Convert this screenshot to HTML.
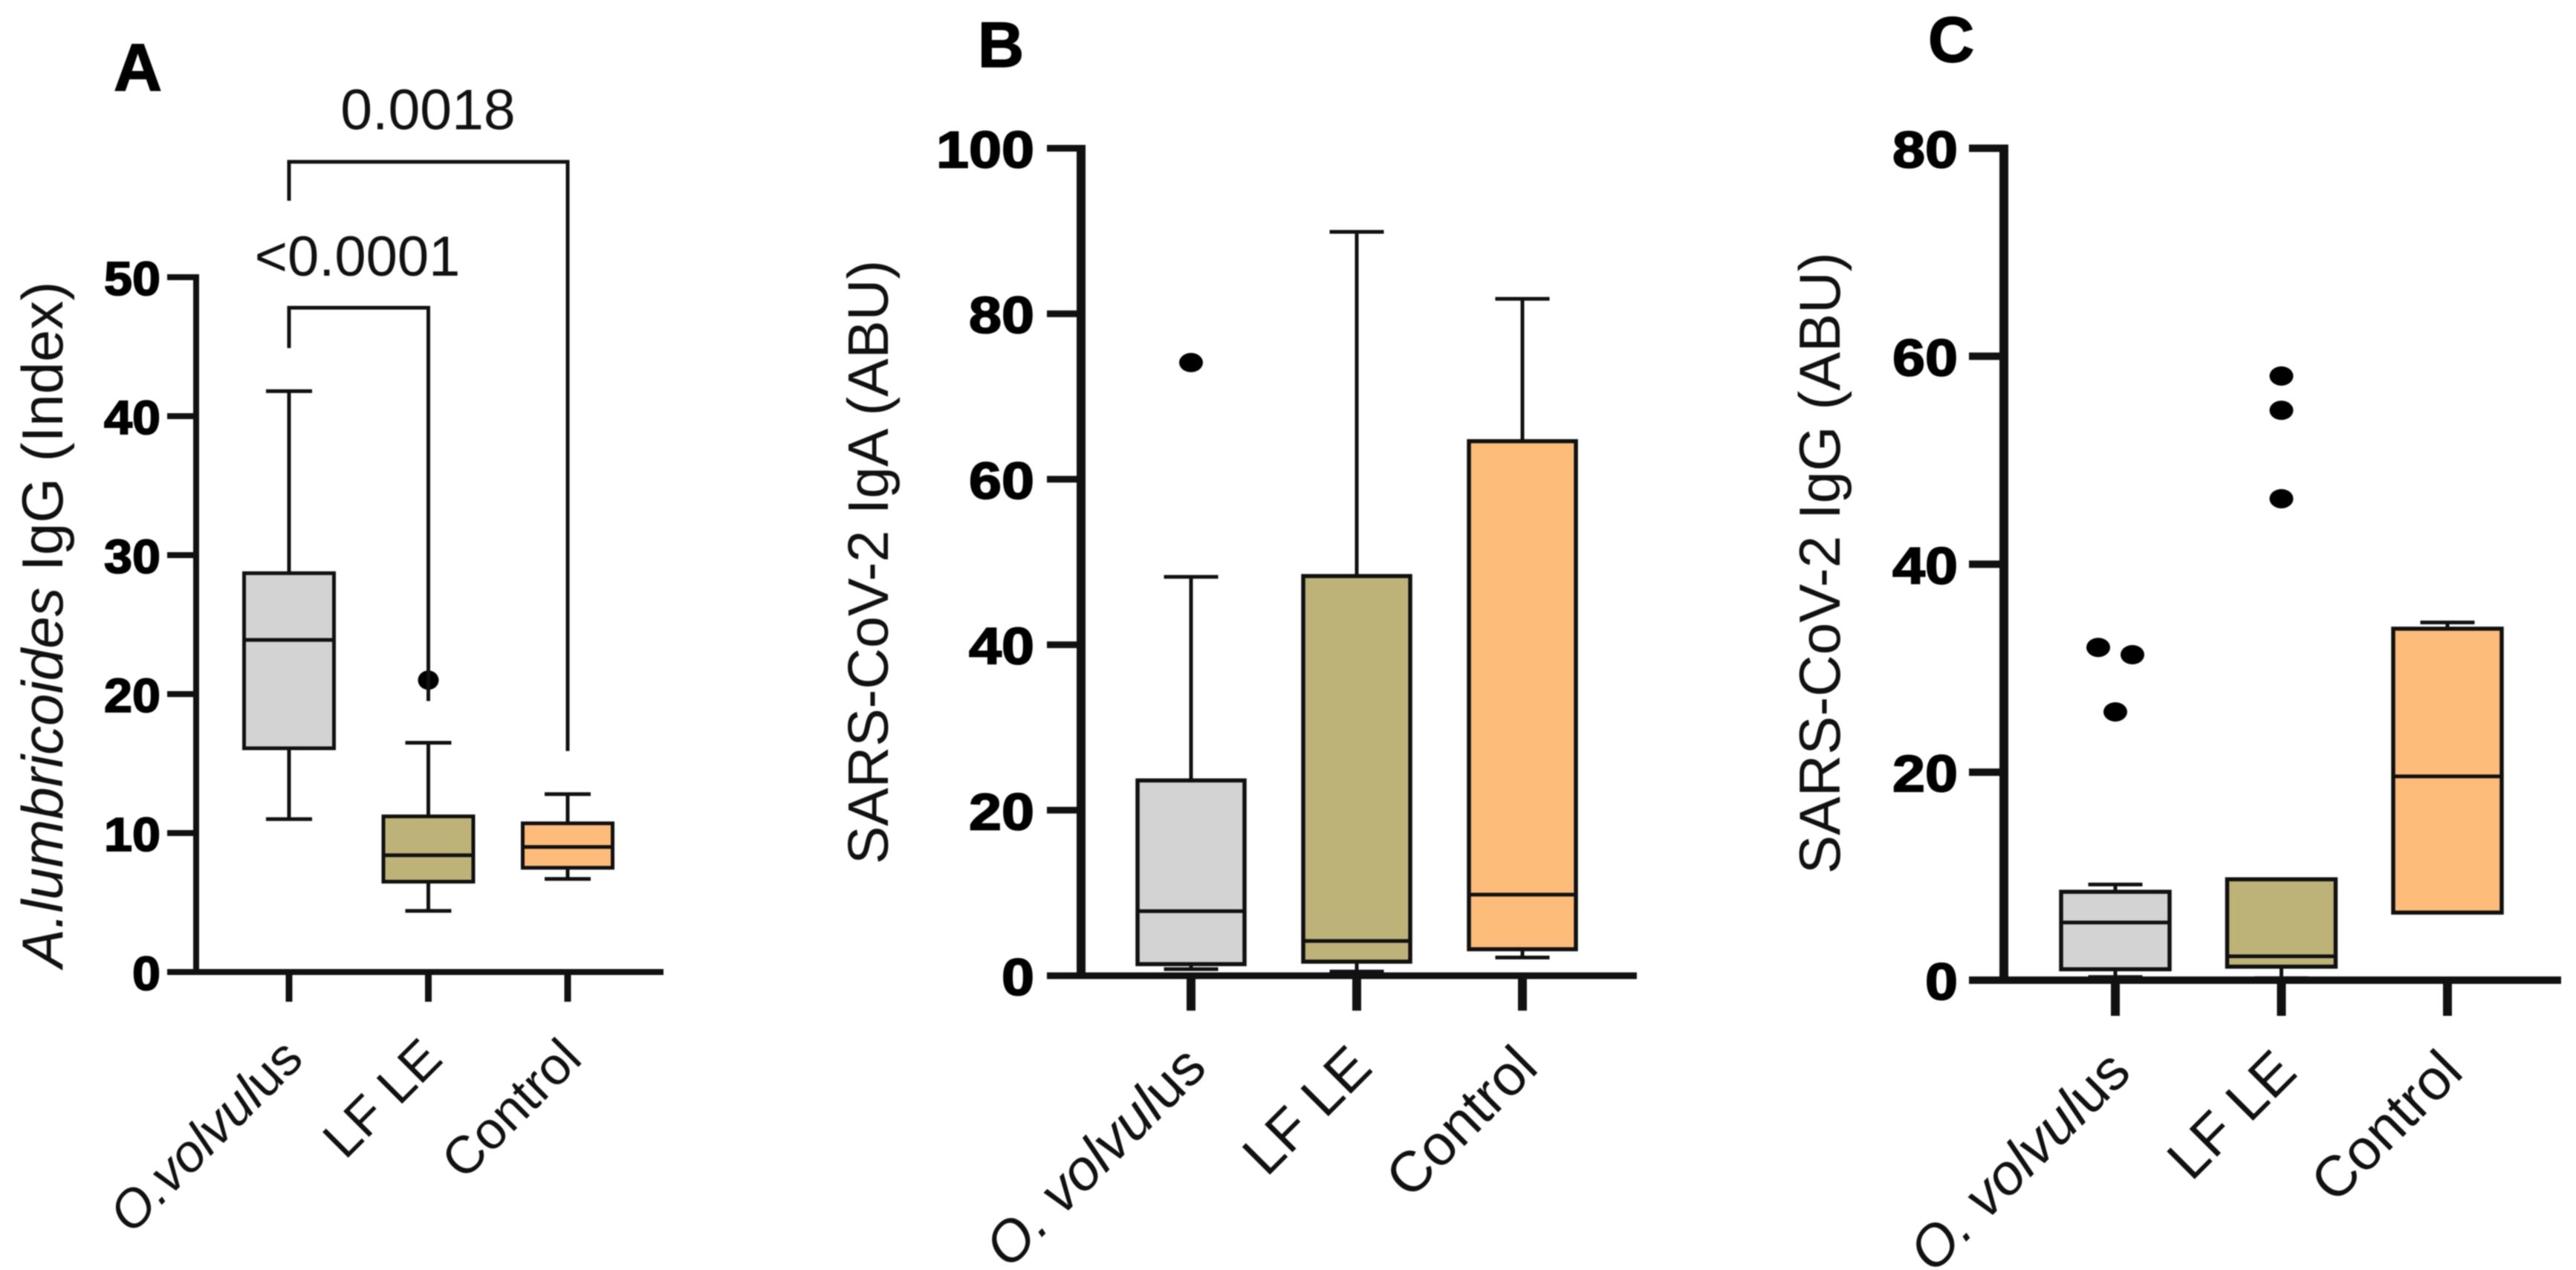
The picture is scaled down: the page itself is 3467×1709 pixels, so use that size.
<!DOCTYPE html>
<html lang="en">
<head>
<meta charset="utf-8">
<title>Antibody responses box plots</title>
<style>
html,body{margin:0;padding:0;background:#fff;width:3467px;height:1709px;overflow:hidden}
svg{display:block;filter:blur(0.8px)}
text{font-family:"Liberation Sans",Arial,sans-serif;fill:#111}
.tick{font-weight:700;fill:#000;stroke:#000;stroke-width:1.8px}
.letter{font-weight:700;font-size:86px;fill:#000;stroke:#000;stroke-width:1.5px}
.title{font-size:78px}
.cat{font-size:72px}
.p{font-size:76px}
</style>
</head>
<body>
<svg id="chart" xmlns="http://www.w3.org/2000/svg" width="3467" height="1709" viewBox="0 0 3467 1709">
  <rect width="3467" height="1709" fill="#fff"/>
  <text class="letter" x="153" y="122" style="font-size:90px">A</text>
  <text class="letter" x="1316" y="90">B</text>
  <text class="letter" x="2595" y="83">C</text>
  <text class="title" transform="translate(84,1302) rotate(-90)"><tspan font-style="italic">A.lumbricoides</tspan> IgG (Index)</text>
  <text class="title" transform="translate(1195,1163) rotate(-90)" style="font-size:77px">SARS-CoV-2 IgA (ABU)</text>
  <text class="title" transform="translate(2476,1176) rotate(-90)" style="font-size:78px">SARS-CoV-2 IgG (ABU)</text>
  <text class="p" x="576" y="174" text-anchor="middle" style="font-size:77px">0.0018</text>
  <text class="p" x="481" y="371" text-anchor="middle">&lt;0.0001</text>
  <g id="panel-a"></g>
  <g id="panel-b"></g>
  <g id="panel-c"></g>
</svg>
<script>
// ---- data ----
const groupKeys = ["o-volvulus", "lf-le", "control"];
const groupFills = ["#d3d3d3", "#bdb379", "#febc7b"];

// Panel A: A. lumbricoides IgG (Index)
const ticksA = [0, 10, 20, 30, 40, 50];
const catItalicA = ["O.volvul", "", ""];
const catRomanA = ["us", "LF LE", "Control"];
const lowA = [11.0, 4.4, 6.7];
const q1A = [16.1, 6.5, 7.5];
const medianA = [23.9, 8.4, 9.0];
const q3A = [28.7, 11.2, 10.7];
const highA = [41.8, 16.5, 12.8];
const outliersA = [[], [21.0], []];
const outlierOffsetA = [[], [0], []];
// brackets: [from group, to group, top value, left-leg end value, right-leg end value]
const bracketA = [[0, 1, 47.8, 44.9, 19.5], [0, 2, 58.3, 55.5, 15.9]];

// Panel B: SARS-CoV-2 IgA (ABU)
const ticksB = [0, 20, 40, 60, 80, 100];
const catItalicB = ["O. volvul", "", ""];
const catRomanB = ["us", "LF LE", "Control"];
const lowB = [0.8, 0.5, 2.2];
const q1B = [1.4, 1.7, 3.2];
const medianB = [7.8, 4.2, 9.8];
const q3B = [23.6, 48.3, 64.6];
const highB = [48.2, 89.9, 81.8];
const outliersB = [[74.1], [], []];
const outlierOffsetB = [[0], [], []];

// Panel C: SARS-CoV-2 IgG (ABU)
const ticksC = [0, 20, 40, 60, 80];
const catItalicC = ["O. volvul", "", ""];
const catRomanC = ["us", "LF LE", "Control"];
const lowC = [0.3, 0.2, 6.5];
const q1C = [1.05, 1.3, 6.5];
const medianC = [5.55, 2.3, 19.6];
const q3C = [8.5, 9.7, 33.8];
const highC = [9.2, 9.7, 34.4];
const outliersC = [[32.0, 31.3, 25.8], [58.1, 54.8, 46.3], []];
const outlierOffsetC = [[-1, 1, 0], [0, 0, 0], []];

// ---- layout ----
const NS = "http://www.w3.org/2000/svg";
const INK = "#111";

function makeLine(parent, x1, y1, x2, y2, width, name) {
  const el = document.createElementNS(NS, "line");
  el.setAttribute("x1", x1);
  el.setAttribute("y1", y1);
  el.setAttribute("x2", x2);
  el.setAttribute("y2", y2);
  el.setAttribute("stroke", INK);
  el.setAttribute("stroke-width", width);
  
  
  parent.appendChild(el);
  return el;
}

function drawPanel(cfg) {
  const g = document.getElementById(cfg.id);
  const y = v => cfg.y0 + (cfg.yMax - cfg.y0) * (v / cfg.maxValue);
  const x = i => cfg.xFirst + i * cfg.xStep;

  // boxes
  cfg.q1.forEach((_, i) => {
    const key = groupKeys[i];
    const cx = x(i);
    if (cfg.high[i] > cfg.q3[i]) {
      makeLine(g, cx, y(cfg.q3[i]), cx, y(cfg.high[i]), cfg.whisker, key + "-upper-whisker");
      makeLine(g, cx - cfg.cap / 2, y(cfg.high[i]), cx + cfg.cap / 2, y(cfg.high[i]), cfg.whisker, key + "-upper-cap");
    }
    if (cfg.low[i] < cfg.q1[i]) {
      makeLine(g, cx, y(cfg.q1[i]), cx, y(cfg.low[i]), cfg.whisker, key + "-lower-whisker");
      makeLine(g, cx - cfg.cap / 2, y(cfg.low[i]), cx + cfg.cap / 2, y(cfg.low[i]), cfg.whisker, key + "-lower-cap");
    }
    const box = document.createElementNS(NS, "rect");
    box.setAttribute("x", cx - cfg.box / 2);
    box.setAttribute("y", y(cfg.q3[i]));
    box.setAttribute("width", cfg.box);
    box.setAttribute("height", y(cfg.q1[i]) - y(cfg.q3[i]));
    box.setAttribute("fill", groupFills[i]);
    box.setAttribute("stroke", INK);
    box.setAttribute("stroke-width", cfg.boxStroke);
    
    
    g.appendChild(box);
    makeLine(g, cx - cfg.box / 2, y(cfg.median[i]), cx + cfg.box / 2, y(cfg.median[i]), cfg.whisker, key + "-median");

    cfg.outliers[i].forEach((v, k) => {
      const dot = document.createElementNS(NS, "ellipse");
      dot.setAttribute("cx", cx + cfg.outlierOffset[i][k] * cfg.outlierSpread);
      dot.setAttribute("cy", y(v));
      dot.setAttribute("rx", cfg.dotRx);
      dot.setAttribute("ry", cfg.dotRy);
      dot.setAttribute("fill", "#000");
      
      
      g.appendChild(dot);
    });
  });

  // axes
  makeLine(g, cfg.axisX, y(cfg.maxValue) - cfg.tickW / 2, cfg.axisX, cfg.y0 + cfg.tickW / 2, cfg.axisW, "y-axis-line");
  makeLine(g, cfg.tickLeft, cfg.y0, cfg.axisEnd, cfg.y0, cfg.tickW, "x-axis-line");

  cfg.ticks.forEach(v => {
    makeLine(g, cfg.tickLeft, y(v), cfg.axisX, y(v), cfg.tickW, "y-tick-" + v);
    const label = document.createElementNS(NS, "text");
    const s = String(v);
    label.setAttribute("class", "tick");
    label.setAttribute("x", cfg.labelRight);
    label.setAttribute("y", y(v) + cfg.labelDy);
    label.setAttribute("text-anchor", "end");
    label.setAttribute("font-size", cfg.labelSize);
    label.setAttribute("textLength", s.length * cfg.digitWidth);
    label.setAttribute("lengthAdjust", "spacingAndGlyphs");
    
    
    label.textContent = s;
    g.appendChild(label);
  });

  cfg.catRoman.forEach((roman, i) => {
    const cx = x(i);
    makeLine(g, cx, cfg.y0, cx, cfg.tickBottom, cfg.xTickW, groupKeys[i] + "-x-tick");
    const label = document.createElementNS(NS, "text");
    label.setAttribute("class", "cat");
    label.setAttribute("text-anchor", "end");
    label.setAttribute("style", "font-size:" + cfg.catSize + "px");
    label.setAttribute("transform", "translate(" + (cx + cfg.catDx) + "," + cfg.catY + ") rotate(-45)");
    
    
    if (cfg.catItalic[i]) {
      const it = document.createElementNS(NS, "tspan");
      it.setAttribute("font-style", "italic");
      it.textContent = cfg.catItalic[i];
      label.appendChild(it);
    }
    label.appendChild(document.createTextNode(roman));
    g.appendChild(label);
  });

  // significance brackets
  (cfg.brackets || []).forEach((b, i) => {
    const path = document.createElementNS(NS, "polyline");
    path.setAttribute("points", [
      x(b[0]) + "," + y(b[3]),
      x(b[0]) + "," + y(b[2]),
      x(b[1]) + "," + y(b[2]),
      x(b[1]) + "," + y(b[4])
    ].join(" "));
    path.setAttribute("fill", "none");
    path.setAttribute("stroke", INK);
    path.setAttribute("stroke-width", cfg.whisker);
    
    
    g.appendChild(path);
  });
}

drawPanel({
  id: "panel-a", y0: 1308, yMax: 373, maxValue: 50, xFirst: 389, xStep: 187.5,
  axisX: 264, axisW: 8, axisEnd: 893, tickLeft: 225, tickW: 8, tickBottom: 1348, xTickW: 9,
  box: 121, boxStroke: 5, cap: 62, whisker: 5, dotRx: 14, dotRy: 13, outlierSpread: 0,
  labelRight: 216, labelDy: 24, labelSize: 64, digitWidth: 38,
  catSize: 71, catDx: 22, catY: 1428,
  ticks: ticksA, catItalic: catItalicA, catRoman: catRomanA,
  low: lowA, q1: q1A, median: medianA, q3: q3A, high: highA,
  outliers: outliersA, outlierOffset: outlierOffsetA, brackets: bracketA
});

drawPanel({
  id: "panel-b", y0: 1313, yMax: 199.5, maxValue: 100, xFirst: 1603, xStep: 223,
  axisX: 1455, axisW: 12, axisEnd: 2203, tickLeft: 1409, tickW: 9, tickBottom: 1360, xTickW: 12,
  box: 144, boxStroke: 5.5, cap: 73, whisker: 5, dotRx: 16, dotRy: 13, outlierSpread: 0,
  labelRight: 1392, labelDy: 26, labelSize: 70, digitWidth: 44,
  catSize: 77, catDx: 24, catY: 1440,
  ticks: ticksB, catItalic: catItalicB, catRoman: catRomanB,
  low: lowB, q1: q1B, median: medianB, q3: q3B, high: highB,
  outliers: outliersB, outlierOffset: outlierOffsetB
});

drawPanel({
  id: "panel-c", y0: 1319, yMax: 199.5, maxValue: 80, xFirst: 2847, xStep: 223.5,
  axisX: 2697, axisW: 12, axisEnd: 3447, tickLeft: 2650, tickW: 10, tickBottom: 1367, xTickW: 12,
  box: 146, boxStroke: 5.5, cap: 73, whisker: 5, dotRx: 16, dotRy: 13, outlierSpread: 23,
  labelRight: 2635, labelDy: 26, labelSize: 70, digitWidth: 44,
  catSize: 77, catDx: 24, catY: 1446,
  ticks: ticksC, catItalic: catItalicC, catRoman: catRomanC,
  low: lowC, q1: q1C, median: medianC, q3: q3C, high: highC,
  outliers: outliersC, outlierOffset: outlierOffsetC
});
</script>
</body>
</html>
